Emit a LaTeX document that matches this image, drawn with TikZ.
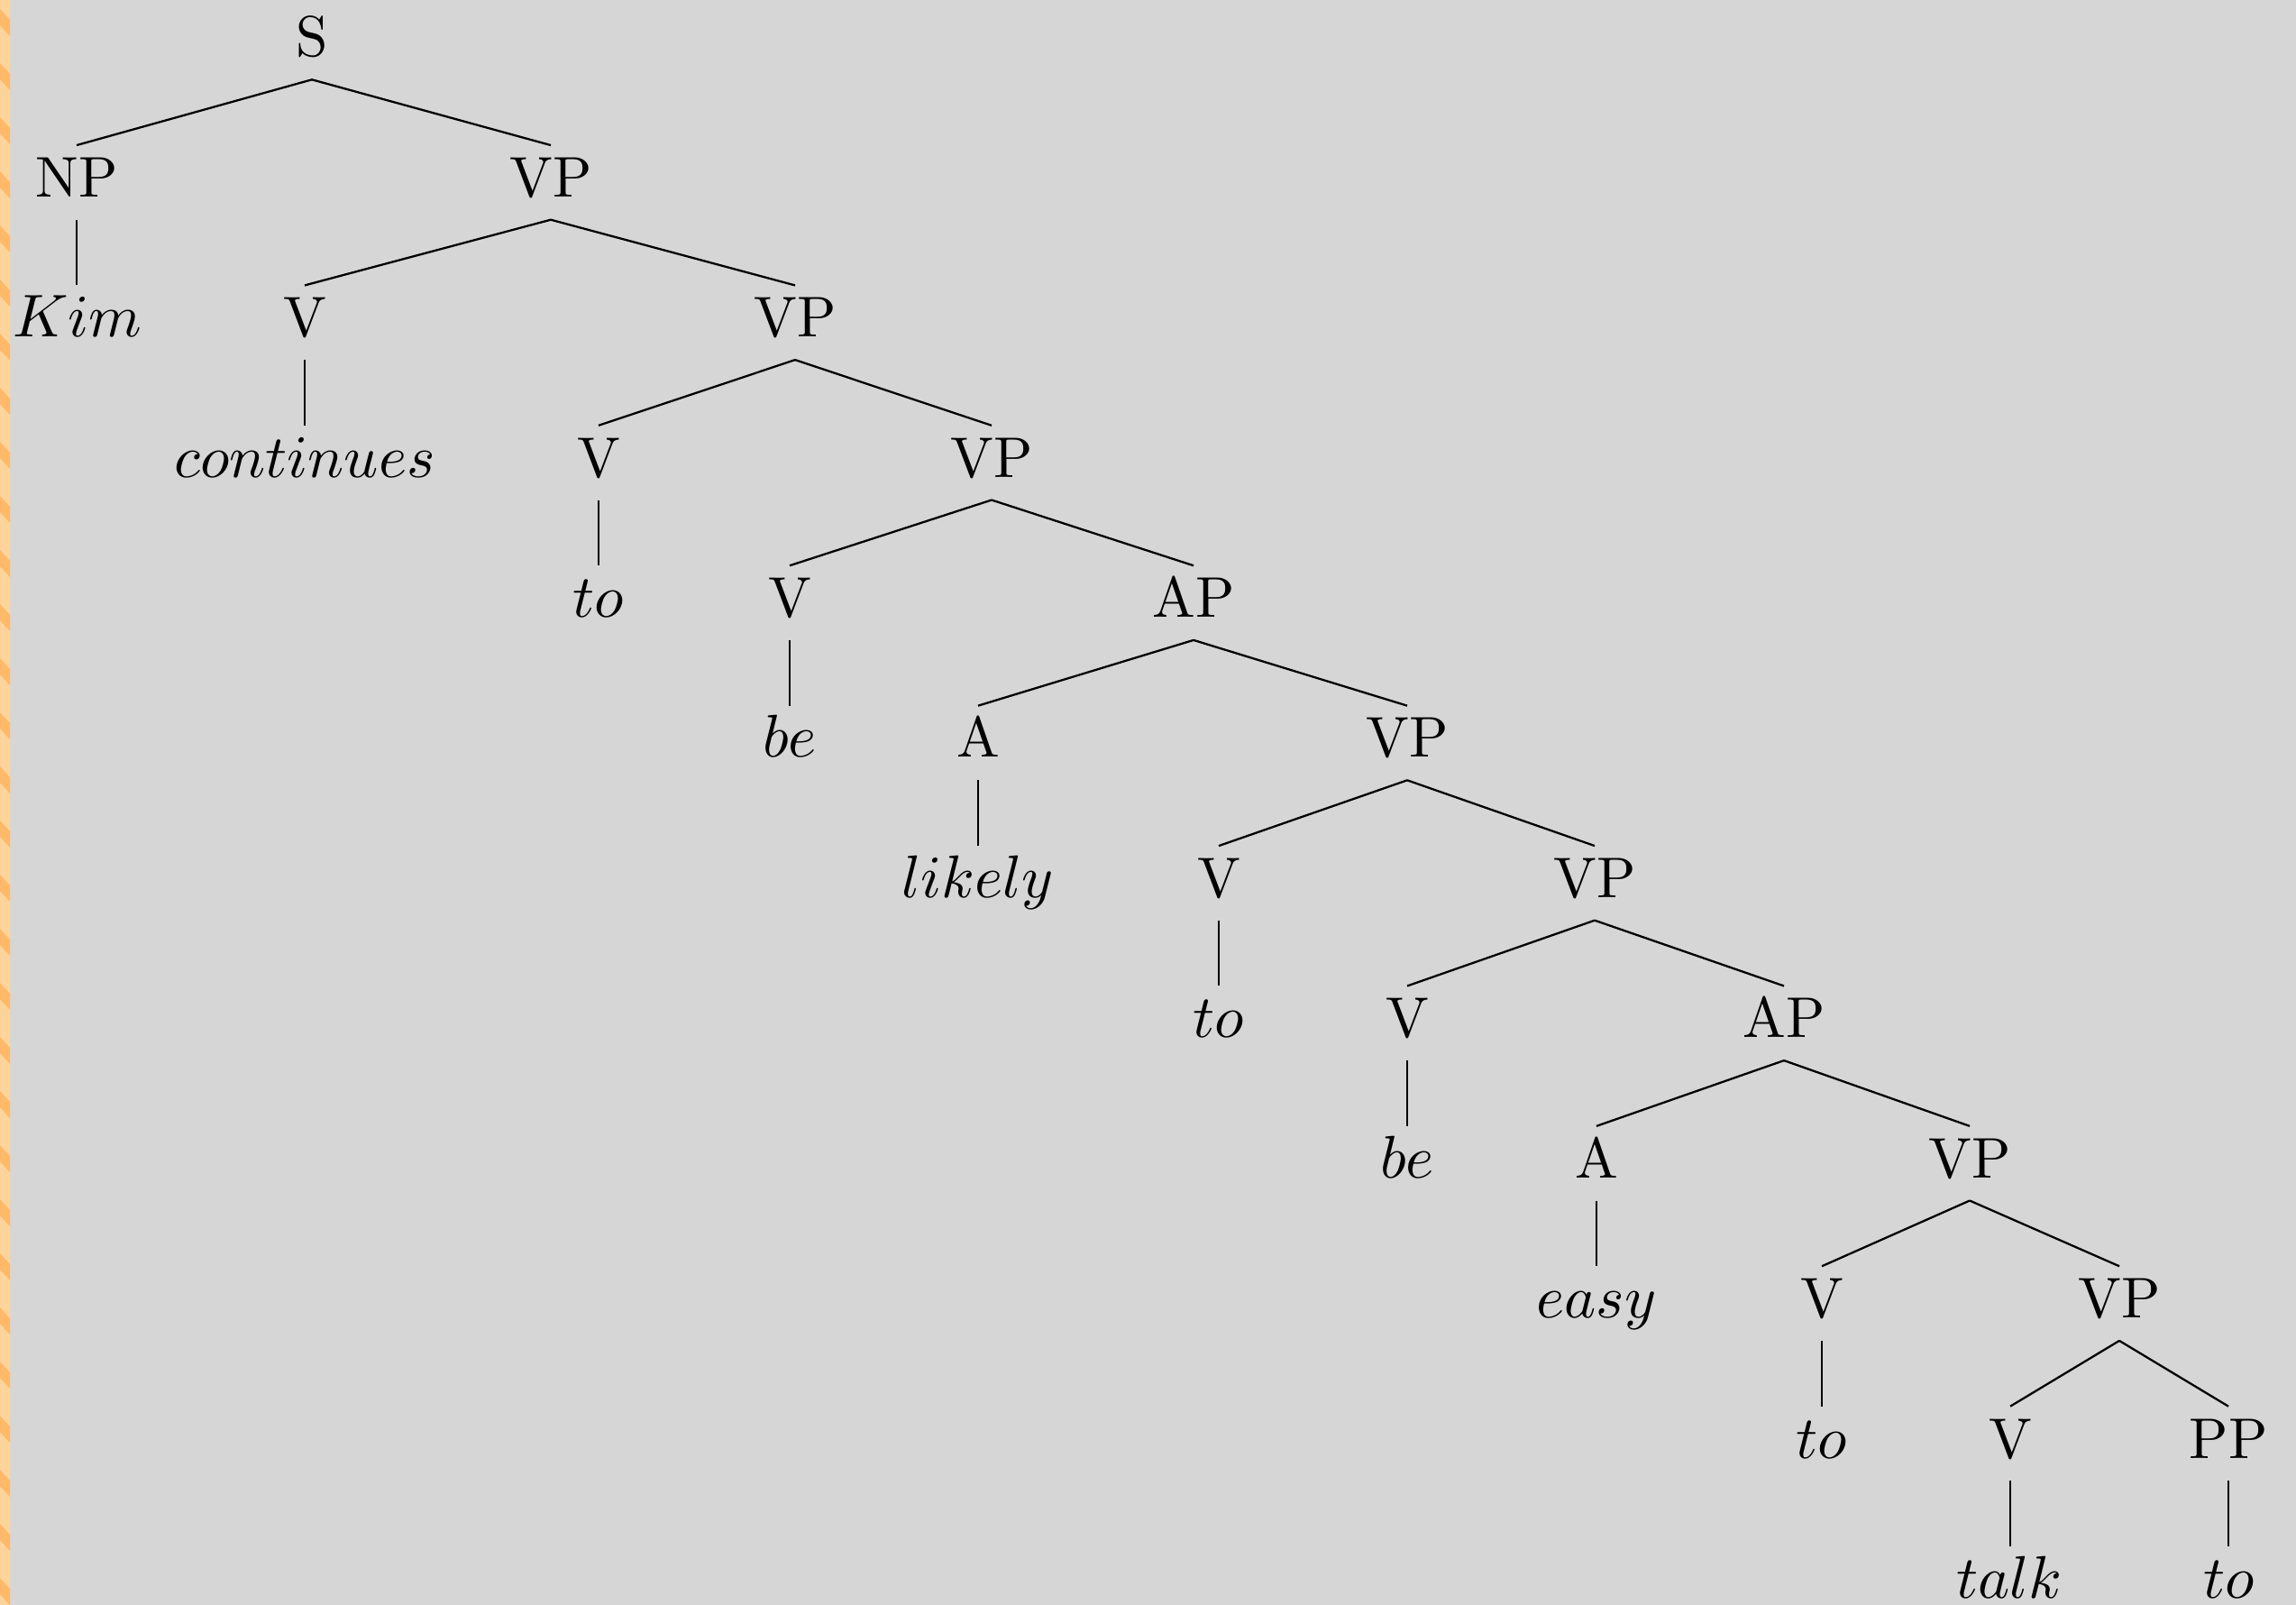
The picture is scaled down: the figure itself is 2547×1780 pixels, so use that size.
\documentclass[tikz,border=0pt]{standalone}
\usepackage{graphicx}
\usepackage{tikz}
\definecolor{bggray}{RGB}{214,214,214}
\definecolor{stripA}{RGB}{255,212,155}
\definecolor{stripB}{RGB}{255,185,105}
\newcommand{\mw}[1]{\scalebox{1.05}{$#1$}}
\begin{document}
\begin{tikzpicture}[x=0.1572pt,y=-0.1572pt,
  tn/.style={anchor=base,inner sep=1.97pt,text height=6.84pt,text depth=1.81pt,font=\fontsize{10}{12}\selectfont},
  br/.style={line width=0.36pt,black}]
\useasboundingbox (0,0) rectangle (2547,1780);
\fill[bggray] (0,0) rectangle (2547,1780);
\fill[stripA] (0,0) rectangle (11,1780);
\foreach \k in {0,...,29}{
  \fill[stripB] (0,{\k*60+10}) -- (11,{\k*60+22}) -- (11,{\k*60+40}) -- (0,{\k*60+28}) -- cycle;
}
% level baselines: 63 + 155.4*k
\node[tn] (S) at (346,63) {S};
\node[tn] (NP) at (85,218.4) {NP};
\node[tn] (VP1) at (611,218.4) {VP};
\node[tn] (Kim) at (86,373.8) {\mw{Kim}};
\node[tn] (V1) at (338,373.8) {V};
\node[tn] (VP2) at (882,373.8) {VP};
\node[tn] (w1) at (338,529.2) {\mw{continues}};
\node[tn] (V2) at (664,529.2) {V};
\node[tn] (VP3) at (1100,529.2) {VP};
\node[tn] (w2) at (664,684.6) {\mw{to}};
\node[tn] (V3) at (876,684.6) {V};
\node[tn] (AP1) at (1324,684.6) {AP};
\node[tn] (w3) at (876,840) {\mw{be}};
\node[tn] (A1) at (1085,840) {A};
\node[tn] (VP4) at (1561,840) {VP};
\node[tn] (w4) at (1085,995.4) {\mw{likely}};
\node[tn] (V4) at (1352,995.4) {V};
\node[tn] (VP5) at (1769,995.4) {VP};
\node[tn] (w5) at (1352,1150.8) {\mw{to}};
\node[tn] (V5) at (1561,1150.8) {V};
\node[tn] (AP2) at (1979,1150.8) {AP};
\node[tn] (w6) at (1561,1306.2) {\mw{be}};
\node[tn] (A2) at (1771,1306.2) {A};
\node[tn] (VP6) at (2185,1306.2) {VP};
\node[tn] (w7) at (1771,1461.6) {\mw{easy}};
\node[tn] (V6) at (2021,1461.6) {V};
\node[tn] (VP7) at (2351,1461.6) {VP};
\node[tn] (w8) at (2021,1617) {\mw{to}};
\node[tn] (V7) at (2230,1617) {V};
\node[tn] (PP) at (2472,1617) {PP};
\node[tn] (w9) at (2229,1772.4) {\mw{talk}};
\node[tn] (w10) at (2473,1772.4) {\mw{to}};
\foreach \p/\c in {S/NP,S/VP1,VP1/V1,VP1/VP2,VP2/V2,VP2/VP3,VP3/V3,VP3/AP1,AP1/A1,AP1/VP4,VP4/V4,VP4/VP5,VP5/V5,VP5/AP2,AP2/A2,AP2/VP6,VP6/V6,VP6/VP7,VP7/V7,VP7/PP}
  \draw[br] (\p.south) -- (\c.north);
\foreach \p/\c in {NP/Kim,V1/w1,V2/w2,V3/w3,A1/w4,V4/w5,V5/w6,A2/w7,V6/w8,V7/w9,PP/w10}
  \draw[br] (\p.south) -- (\p.south |- \c.north);
\end{tikzpicture}
\end{document}
